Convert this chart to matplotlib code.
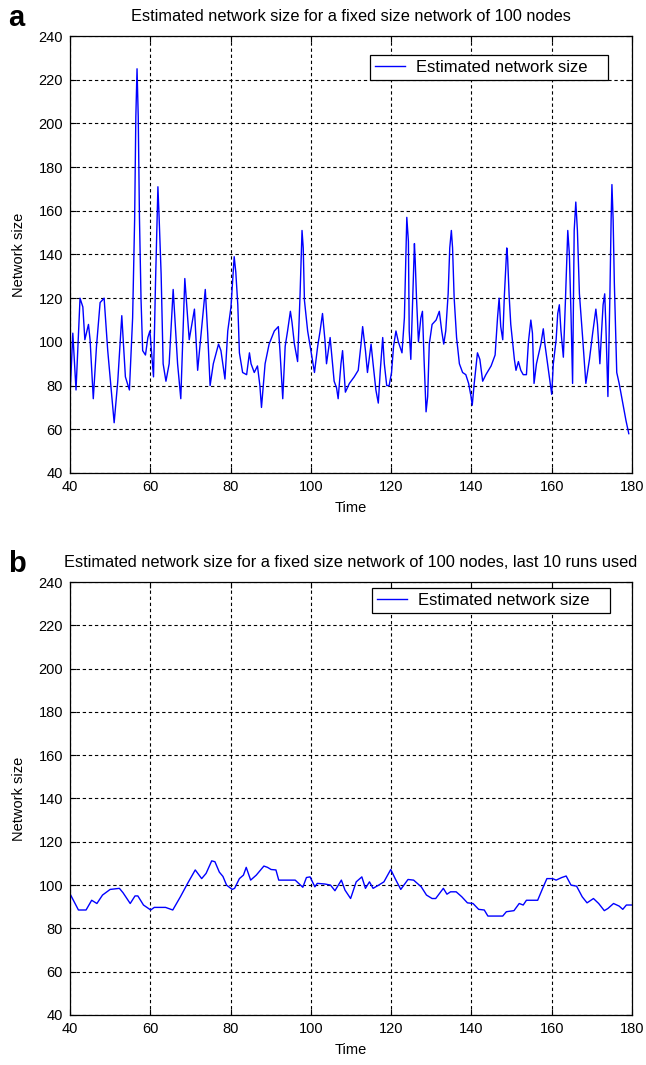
import matplotlib
matplotlib.use("Agg")
import matplotlib.pyplot as plt

plt.rcParams['font.family'] = ['Liberation Sans', 'DejaVu Sans']

# Panel a: estimated network size (vertices of the trace)
time_a = [40, 40.7, 41.5, 42.5, 43.2, 43.7, 44.6, 45, 45.8, 46.6, 47.5, 48.5, 49.4, 51, 51.9, 52.9,
          53.8, 54.8, 55.6, 56.1, 56.4, 56.7, 57, 57.3, 57.7, 58.1, 58.8, 59.4, 59.9, 60.8, 61.3,
          61.9, 62.2, 62.7, 63.2, 63.9, 64.7, 65.7, 66.8, 67.6, 68.6, 69.7, 71, 71.8, 73.7,
          74.3, 74.9, 75.7, 77, 77.6, 78.6, 79.3, 80.1, 80.9, 81.3, 81.8, 82.2, 83, 84, 84.7,
          85.1, 85.9, 86.7, 87.3, 87.7, 88.6, 89.6, 90.9, 91.9, 92.3, 93, 93.6, 94.2, 94.9, 95.3,
          95.9, 96.7, 97.3, 97.8, 98.1, 98.4, 99.2, 100, 100.9, 101.7, 102.3, 102.9, 103.5,
          103.9, 104.8, 105.3, 105.8, 106.4, 106.8, 107.5, 107.9, 108.6, 109.6, 110.8, 111.8,
          112.5, 112.9, 113.6, 114.1, 115, 115.5, 116.2, 116.8, 117.3, 117.9, 118.3, 118.9,
          119.5, 120.1, 120.6, 121.2, 121.8, 122.7, 123.3, 123.5, 123.9, 124.3, 124.5, 124.9,
          125.3, 125.8, 126, 126.3, 126.8, 127.4, 127.8, 128.2, 128.7, 129.1, 129.5, 130.2,
          131.2, 132, 132.6, 133.1, 133.6, 134.2, 134.6, 135, 135.3, 135.7, 136.3, 137, 137.8,
          138.6, 139.3, 139.9, 140.2, 140.7, 141.5, 142.1, 142.8, 143.6, 144.9, 145.9, 146.5,
          146.9, 147.3, 147.8, 148.2, 148.8, 149, 149.4, 149.8, 150.7, 151.1, 151.7, 152.3,
          152.9, 153.7, 154.2, 154.8, 155.2, 155.6, 156.2, 157.3, 157.9, 158.3, 159.4, 160,
          160.4, 161.1, 161.5, 161.9, 162.3, 162.9, 163.4, 164, 164.4, 164.8, 165.2, 165.6,
          166, 166.4, 166.9, 167.7, 168.5, 169.4, 170.2, 171, 171.4, 172, 172.4, 172.8, 173.2,
          173.5, 174, 174.5, 174.8, 175, 175.3, 175.6, 176.2, 176.8, 177.6, 178.5, 179.2]
size_a = [75, 104, 78, 120, 116, 101, 108, 101, 74, 98, 118, 120, 96, 63, 82, 112,
          84, 78, 111, 156, 203, 225, 203, 157, 119, 96, 94, 102, 105, 84, 127,
          171, 157, 131, 90, 82, 90, 124, 90, 74, 129, 101, 115, 87, 124,
          104, 80, 90, 99, 96, 83, 105, 116, 139, 132, 117, 95, 86, 85, 95,
          90, 86, 89, 80, 70, 90, 99, 105, 107, 96, 74, 98, 105, 114, 109,
          99, 91, 121, 151, 143, 119, 105, 96, 86, 98, 105, 113, 101,
          90, 102, 92, 82, 79, 74, 90, 96, 77, 81, 84, 87,
          99, 107, 96, 86, 99, 90, 78, 72, 87, 102, 90, 80,
          80, 86, 98, 105, 100, 95, 111, 127, 157, 146, 105, 92,
          116, 145, 137, 121, 100, 111, 114, 92, 68, 75, 99, 108,
          110, 114, 105, 99, 105, 122, 143, 151, 143, 120, 102, 90, 86,
          85, 81, 75, 71, 81, 95, 92, 82, 85, 89, 94, 111,
          120, 107, 101, 121, 143, 139, 121, 108, 92, 87, 91, 87,
          85, 85, 100, 110, 104, 81, 90, 99, 106, 99, 84, 76,
          90, 101, 113, 117, 105, 93, 118, 151, 140, 113, 81, 151,
          164, 151, 122, 102, 81, 92, 104, 115, 108, 90, 104, 117, 122,
          107, 75, 122, 156, 172, 156, 127, 86, 81, 73, 64, 58]

# Panel b: estimate using last 10 runs
time_b = [40, 42.1, 44, 45.4, 46.7, 48.1, 50, 52.3, 53.2, 55, 56.2, 56.9, 58.3, 60.1, 61, 63.8,
          65.6, 67.5, 69.3, 71.2, 72.8, 73.9, 75.3, 76.1, 77.2, 78.1, 79, 80.4, 81, 82.2, 83.2,
          83.9, 85, 86.4, 88.3, 89.2, 90.1, 91.3, 92, 96.1, 98, 98.9, 99.8, 101, 101.6, 103.5,
          104.9, 106, 107.6, 108.5, 109.9, 111.3, 112.7, 113.6, 114.6, 115.5, 116.9, 118.2,
          119.9, 121, 122.4, 124.2, 125.6, 127.5, 128.8, 130.2, 131.1, 133, 133.9, 134.8,
          136.2, 137.6, 139, 140.4, 141.8, 143.2, 144.1, 147.8, 148.7, 150.6, 151.9, 152.9,
          153.7, 156.5, 157.9, 158.8, 160.2, 161.1, 162.5, 163.6, 164.8, 166.2, 167.6, 168.8,
          170.4, 171.7, 173.1, 174, 175.4, 176.8, 177.7, 178.6, 180]
size_b = [96, 88.5, 88.5, 93, 91.5, 95.4, 98, 98.5, 96.5, 91.5, 95, 95, 90.8, 88.5, 89.7, 89.7,
          88.5, 94.6, 100.8, 107, 103, 105.4, 111.2, 110.8, 106, 104, 100, 98, 98.5, 103, 104.6,
          108.2, 102.3, 104.6, 108.8, 108.2, 107.2, 107, 102.3, 102.3, 99, 103.5, 103.8, 99.2,
          100.8, 100.5, 100, 97.4, 102.3, 97.7, 93.8, 101.5, 103.8, 98.5, 101.5, 98.5, 100,
          101.5, 107.2, 103, 98, 102.6, 102.3, 99.2, 95.4, 93.8, 93.8, 98.5, 95.8, 96.9, 96.9,
          94.6, 91.8, 91.5, 88.8, 88.5, 85.7, 85.7, 87.7, 88.2, 91.5, 90.8, 93, 93, 99.2, 103,
          103, 102.3, 103.5, 104.2, 100, 99.5, 94.6, 91.8, 93.8, 91.5, 88.2, 89.2, 91.5, 90.3,
          88.8, 90.8, 90.8]

titles = ["Estimated network size for a fixed size network of 100 nodes",
          "Estimated network size for a fixed size network of 100 nodes, last 10 runs used"]
panel_labels = ["a", "b"]
xticks = [40, 60, 80, 100, 120, 140, 160, 180]
yticks = [40, 60, 80, 100, 120, 140, 160, 180, 200, 220, 240]

W, H = 646, 1065
fig = plt.figure(figsize=(W / 100, H / 100), dpi=100)
ax_a = fig.add_axes([70 / W, 1 - 473 / H, 562 / W, 437 / H])
ax_b = fig.add_axes([70 / W, 1 - 1015 / H, 562 / W, 433 / H])

panels = [(ax_a, time_a, size_a, titles[0], panel_labels[0], 370, 19),
          (ax_b, time_b, size_b, titles[1], panel_labels[1], 372, 6)]
for ax, t, v, title, lab, leg_left_px, leg_gap_px in panels:
    ax.plot(t, v, color=(0, 0, 1), lw=1.0, label="Estimated network size")
    ax.set_xlim(40, 180)
    ax.set_ylim(40, 240)
    ax.set_xticks(xticks)
    ax.set_yticks(yticks)
    ax.tick_params(direction='in', top=True, right=True, labelsize=10.5, length=4, pad=5)
    ax.grid(True, color='black', linestyle=(0, (3, 2.5)), linewidth=0.8)
    for s in ax.spines.values():
        s.set_linewidth(0.9)
    ax.set_title(title, fontsize=11.8, pad=10.5)
    ax.set_xlabel("Time", fontsize=10.5, labelpad=5)
    ax.set_ylabel("Network size", fontsize=10.5, labelpad=9)
    hpx = ax.get_position().height * H
    x0 = (leg_left_px - 70) / 562
    wl = 238 / 562
    top = 1 - leg_gap_px / hpx
    leg = ax.legend(loc='upper left', bbox_to_anchor=(x0, top - 0.1, wl, 0.1), mode='expand',
                    fontsize=12, fancybox=False, framealpha=1, edgecolor='black',
                    handlelength=1.8, handletextpad=0.65, borderaxespad=0, borderpad=0.3)
    leg.get_frame().set_linewidth(0.9)
    ax.text(-0.110, 1 + 10 / hpx, lab, transform=ax.transAxes, fontsize=21,
            fontweight='bold', ha='left', va='baseline')

fig.savefig("out.png", dpi=100)
